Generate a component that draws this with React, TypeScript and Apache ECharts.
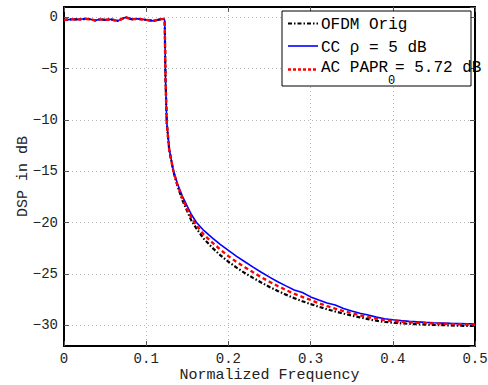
import React, { useEffect, useRef } from "react";
import * as echarts from "echarts";

const freq = [
  0, 0.01, 0.02, 0.026, 0.032, 0.038, 0.044, 0.05, 0.057, 0.065,
  0.075, 0.083, 0.089, 0.095, 0.1, 0.109, 0.117, 0.121, 0.1225, 0.1235,
  0.125, 0.128, 0.133, 0.138, 0.144, 0.15, 0.155, 0.161, 0.17, 0.18,
  0.19, 0.2, 0.21, 0.22, 0.23, 0.24, 0.25, 0.26, 0.27, 0.28,
  0.29, 0.3, 0.31, 0.32, 0.33, 0.34, 0.35, 0.36, 0.37, 0.38,
  0.39, 0.4, 0.41, 0.42, 0.43, 0.44, 0.45, 0.46, 0.47, 0.48,
  0.49, 0.5,
];

const ofdmOrig = [
  -0.25, -0.2, -0.2, -0.15, -0.2, -0.3, -0.2, -0.25, -0.2, -0.35,
  0.0, -0.2, -0.15, -0.2, -0.25, -0.35, -0.2, -0.15, -0.3, -6,
  -10.3, -12.9, -15.0, -16.4, -17.8, -18.9, -19.8, -20.55, -21.55, -22.4,
  -23.15, -23.8, -24.37, -24.9, -25.37, -25.82, -26.25, -26.64, -27.0, -27.34,
  -27.64, -27.92, -28.18, -28.42, -28.64, -28.85, -29.04, -29.21, -29.39, -29.54,
  -29.65, -29.73, -29.79, -29.85, -29.88, -29.92, -29.95, -29.97, -30.0, -30.02,
  -30.04, -30.05,
];

const ccRho5 = [
  -0.25, -0.2, -0.2, -0.15, -0.2, -0.3, -0.2, -0.25, -0.2, -0.35,
  0.0, -0.2, -0.15, -0.2, -0.25, -0.35, -0.2, -0.15, -0.3, -6,
  -10.2, -12.8, -14.9, -16.2, -17.4, -18.4, -19.2, -19.95, -20.75, -21.45,
  -22.1, -22.7, -23.27, -23.8, -24.32, -24.82, -25.3, -25.74, -26.15, -26.54,
  -26.79, -27.22, -27.53, -27.82, -28.01, -28.35, -28.59, -28.81, -28.98, -29.19,
  -29.35, -29.45, -29.53, -29.6, -29.65, -29.7, -29.74, -29.77, -29.8, -29.82,
  -29.84, -29.85,
];

const acPapr = [
  -0.25, -0.2, -0.2, -0.15, -0.2, -0.3, -0.2, -0.25, -0.2, -0.35,
  0.0, -0.2, -0.15, -0.2, -0.25, -0.35, -0.2, -0.15, -0.3, -6,
  -10.3, -12.9, -14.95, -16.3, -17.6, -18.7, -19.5, -20.25, -21.15, -21.9,
  -22.6, -23.25, -23.82, -24.33, -24.82, -25.3, -25.75, -26.16, -26.55, -26.91,
  -27.23, -27.52, -27.83, -28.12, -28.37, -28.6, -28.81, -29.01, -29.19, -29.34,
  -29.48, -29.57, -29.63, -29.69, -29.73, -29.77, -29.8, -29.83, -29.86, -29.88,
  -29.9, -29.9,
];

const xTicks = [0, 0.1, 0.2, 0.3, 0.4, 0.5];
const yTicks = [-30, -25, -20, -15, -10, -5, 0];

const legendNames = ["OFDM Orig", "CC ρ = 5 dB", "AC PAPR", "0", "= 5.72 dB"];

const FONT = "'Liberation Mono', 'DejaVu Sans Mono', monospace";

export default function App() {
  const ref = useRef<HTMLDivElement>(null);
  useEffect(() => {
    if (!ref.current) return;
    const chart = echarts.init(ref.current, null, { renderer: "svg" });
    const toPairs = (arr: number[]) => freq.map((f, i) => [f, arr[i]]);
    const fmt = (v: number) => String(v).replace("-", "\u2212");
    const gridLine = { show: true, lineStyle: { color: "#b8b8b8", type: [1, 3] as any, width: 1 } };
    const tickStyle = { show: true, inside: true, length: 5, lineStyle: { color: "#555" } };
    const option: any = {
      animation: false,
      backgroundColor: "#fff",
      grid: { left: 64, right: 13, top: 7, bottom: 39, containLabel: false, outerBoundsMode: "none" },
      xAxis: [
        {
          type: "value",
          min: 0,
          max: 0.5,
          interval: 0.1,
          name: "Normalized Frequency",
          nameLocation: "middle",
          nameGap: 22,
          nameMoveOverlap: false,
          nameTextStyle: { fontFamily: FONT, fontSize: 15, color: "#222" },
          axisLine: { show: true, onZero: false, lineStyle: { color: "#000", width: 2 } },
          axisTick: tickStyle,
          axisLabel: {
            margin: 6,
            fontFamily: FONT,
            fontSize: 14,
            color: "#222",
            formatter: (v: number) => {
              const r = Math.round(v * 10) / 10;
              return xTicks.includes(r) ? fmt(r) : "";
            },
          },
          splitLine: gridLine,
        },
        {
          type: "value",
          position: "top",
          min: 0,
          max: 0.5,
          interval: 0.1,
          axisLine: { show: true, onZero: false, lineStyle: { color: "#000", width: 2 } },
          axisTick: tickStyle,
          axisLabel: { show: false },
          splitLine: { show: false },
        },
      ],
      yAxis: [
        {
          type: "value",
          min: -32,
          max: 1,
          splitNumber: 7,
          name: "DSP in dB",
          nameLocation: "middle",
          nameGap: 33,
          nameMoveOverlap: false,
          nameTextStyle: { fontFamily: FONT, fontSize: 15, color: "#222" },
          axisLine: { show: true, onZero: false, lineStyle: { color: "#000", width: 2 } },
          axisTick: tickStyle,
          axisLabel: {
            margin: 6,
            fontFamily: FONT,
            fontSize: 14,
            color: "#222",
            showMinLabel: false,
            showMaxLabel: false,
            formatter: (v: number) => (yTicks.includes(v) ? fmt(v) : ""),
          },
          splitLine: gridLine,
        },
        {
          type: "value",
          position: "right",
          min: -32,
          max: 1,
          splitNumber: 7,
          axisLine: { show: true, onZero: false, lineStyle: { color: "#000", width: 2 } },
          axisTick: tickStyle,
          axisLabel: { show: false },
          splitLine: { show: false },
        },
      ],
      series: [
        {
          type: "line",
          name: legendNames[0],
          data: toPairs(ofdmOrig),
          showSymbol: false,
          lineStyle: { color: "#000", width: 2.2, type: [4, 2, 1.5, 2] },
          z: 2,
        },
        {
          type: "line",
          name: legendNames[1],
          data: toPairs(ccRho5),
          showSymbol: false,
          lineStyle: { color: "#0000ff", width: 1.6, type: "solid" },
          z: 3,
        },
        {
          type: "line",
          name: legendNames[2],
          data: toPairs(acPapr),
          showSymbol: false,
          lineStyle: { color: "#ff0000", width: 2.4, type: [4, 3] },
          z: 4,
        },
      ],
      graphic: [
        {
          type: "rect",
          shape: { x: 282, y: 11, width: 189, height: 75 },
          style: { fill: "#fff", stroke: "#000", lineWidth: 1 },
          z: 100,
        },
        {
          type: "line",
          shape: { x1: 288, y1: 23.5, x2: 318, y2: 23.5 },
          style: { stroke: "#000", lineWidth: 2, lineDash: [4, 2, 1.5, 2] },
          z: 101,
        },
        {
          type: "line",
          shape: { x1: 288, y1: 46, x2: 318, y2: 46 },
          style: { stroke: "#0000ff", lineWidth: 1.6 },
          z: 101,
        },
        {
          type: "line",
          shape: { x1: 288, y1: 69.5, x2: 318, y2: 69.5 },
          style: { stroke: "#ff0000", lineWidth: 2.4, lineDash: [3, 2] },
          z: 101,
        },
        {
          type: "text",
          x: 321,
          y: 25,
          style: { text: legendNames[0], font: `16px ${FONT}`, fill: "#000", verticalAlign: "middle" },
          z: 101,
        },
        {
          type: "text",
          x: 321,
          y: 48,
          style: { text: legendNames[1], font: `16px ${FONT}`, fill: "#000", verticalAlign: "middle" },
          z: 101,
        },
        {
          type: "text",
          x: 321,
          y: 68,
          style: { text: legendNames[2], font: `16px ${FONT}`, fill: "#000", verticalAlign: "middle" },
          z: 101,
        },
        {
          type: "text",
          x: 388,
          y: 81,
          style: { text: legendNames[3], font: `12px ${FONT}`, fill: "#000", verticalAlign: "middle" },
          z: 101,
        },
        {
          type: "text",
          x: 395,
          y: 68,
          style: { text: legendNames[4], font: `16px ${FONT}`, fill: "#000", verticalAlign: "middle" },
          z: 101,
        },
      ],
    };
    chart.setOption(option);
    return () => chart.dispose();
  }, []);
  return (
    <div
      ref={ref}
      style={{ position: "fixed", left: 0, top: 0, width: 488, height: 385, background: "#fff" }}
    />
  );
}
